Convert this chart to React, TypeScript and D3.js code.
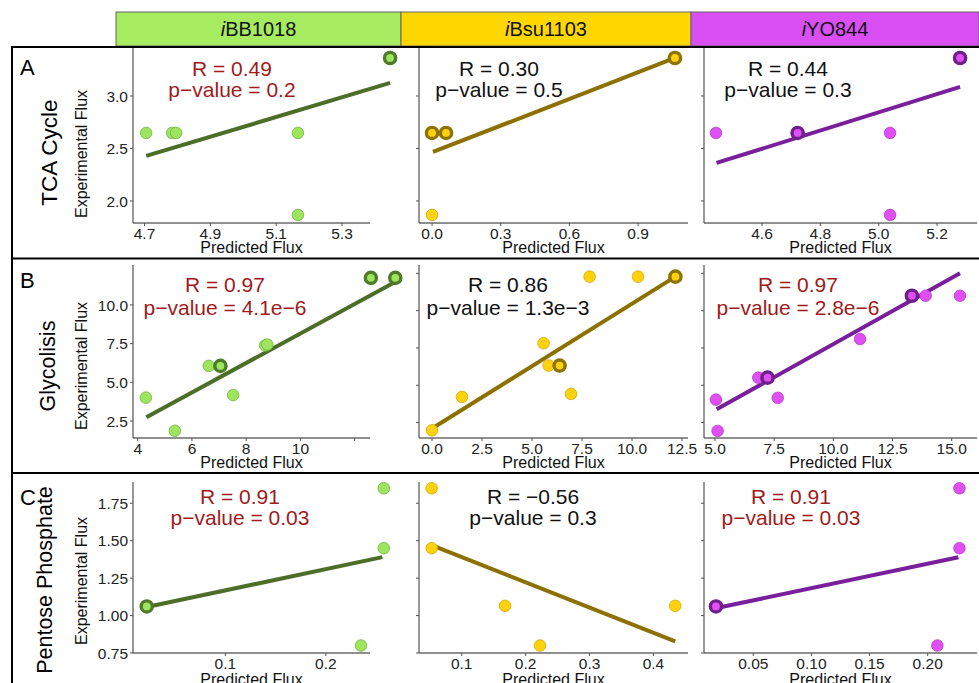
import React from "react";
import * as d3 from "d3";

const modelNames = ["BB1018", "Bsu1103", "YO844"];
const pathwayNames = ["TCA Cycle", "Glycolisis", "Pentose Phosphate"];
const rowTags = ["A", "B", "C"];

// TCA cycle
const tcaPredBB = [4.705, 4.784, 4.796, 5.166, 5.166, 5.446];
const tcaExpBB = [2.648, 2.648, 2.648, 2.648, 1.867, 3.362];
const tcaRingBB = [0, 0, 0, 0, 0, 1];
const tcaPredBsu = [0.0, 0.061, 0.0, 1.061];
const tcaExpBsu = [2.648, 2.648, 1.867, 3.362];
const tcaRingBsu = [1, 1, 0, 1];
const tcaPredYO = [4.442, 4.722, 5.039, 5.039, 5.279];
const tcaExpYO = [2.648, 2.648, 2.648, 1.867, 3.362];
const tcaRingYO = [0, 1, 0, 0, 1];

// glycolisis
const glyPredBB = [4.3, 5.37, 6.62, 7.05, 7.52, 8.7, 8.78, 12.6, 13.5];
const glyExpBB = [4.01, 1.87, 6.06, 6.06, 4.18, 7.38, 7.44, 11.75, 11.75];
const glyRingBB = [0, 0, 0, 1, 0, 0, 0, 1, 1];
const glyPredBsu = [0.0, 1.5, 5.58, 5.83, 6.38, 6.95, 7.88, 10.3, 12.17];
const glyExpBsu = [1.98, 4.22, 7.82, 6.32, 6.32, 4.42, 12.28, 12.28, 12.28];
const glyRingBsu = [0, 0, 0, 0, 1, 0, 0, 0, 1];
const glyPredYO = [5.04, 5.11, 6.83, 7.22, 7.65, 11.13, 13.32, 13.9, 15.35];
const glyExpYO = [4.04, 1.94, 5.51, 5.51, 4.16, 8.1, 11.0, 11.0, 11.0];
const glyRingYO = [0, 0, 0, 1, 0, 0, 1, 0, 0];

// pentose phosphate
const ppPredBB = [0.0217, 0.235, 0.2577, 0.2577];
const ppExpBB = [1.061, 0.8, 1.45, 1.85];
const ppRingBB = [1, 0, 0, 0];
const ppPredBsu = [0.053, 0.053, 0.1678, 0.2225, 0.434];
const ppExpBsu = [1.85, 1.45, 1.065, 0.8, 1.065];
const ppRingBsu = [0, 0, 0, 0, 0];
const ppPredYO = [0.0179, 0.2083, 0.2273, 0.2273];
const ppExpYO = [1.061, 0.8, 1.45, 1.85];
const ppRingYO = [1, 0, 0, 0];

// regression line ends
const fitPred = [
  [4.705, 5.446], [0.004, 1.061], [4.444, 5.279],
  [4.32, 13.51], [0, 12.17], [5.07, 15.35],
  [0.0217, 0.2563], [0.0556, 0.434], [0.0185, 0.2264],
];
const fitExp = [
  [2.429, 3.124], [2.467, 3.362], [2.362, 3.086],
  [2.74, 11.5], [2.1, 12.28], [3.39, 12.5],
  [1.057, 1.39], [1.465, 0.827], [1.05, 1.39],
];

const rLabels = ["0.49", "0.30", "0.44", "0.97", "0.86", "0.97", "0.91", "\u22120.56", "0.91"];
const pLabels = ["0.2", "0.5", "0.3", "4.1e\u22126", "1.3e\u22123", "2.8e\u22126", "0.03", "0.3", "0.03"];
const redStats = [1, 0, 0, 1, 0, 1, 1, 0, 1];

const xTicks = [
  [4.7, 4.9, 5.1, 5.3], [0, 0.3, 0.6, 0.9], [4.6, 4.8, 5.0, 5.2],
  [4, 6, 8, 10, 12], [0, 2.5, 5, 7.5, 10, 12.5], [5, 7.5, 10, 12.5, 15],
  [0.1, 0.2], [0.1, 0.2, 0.3, 0.4], [0.05, 0.1, 0.15, 0.2],
];
const xTickText = [
  ["4.7", "4.9", "5.1", "5.3"], ["0.0", "0.3", "0.6", "0.9"], ["4.6", "4.8", "5.0", "5.2"],
  ["4", "6", "8", "10", ""], ["0.0", "2.5", "5.0", "7.5", "10.0", "12.5"], ["5.0", "7.5", "10.0", "12.5", "15.0"],
  ["0.1", "0.2"], ["0.1", "0.2", "0.3", "0.4"], ["0.05", "0.10", "0.15", "0.20"],
];
const yTicks = [
  [2.0, 2.5, 3.0], [2.0, 2.5, 3.0], [2.0, 2.5, 3.0],
  [2.5, 5, 7.5, 10], [2.5, 5, 7.5, 10, 12.5], [2.5, 5, 7.5, 10, 12.5],
  [0.75, 1, 1.25, 1.5, 1.75], [0.75, 1, 1.25, 1.5, 1.75], [0.75, 1, 1.25, 1.5, 1.75],
];

// scale ranges of each panel
const xDomains = [
  [4.665, 5.385], [-0.057, 1.118], [4.401, 5.337],
  [3.826, 12.567], [-0.65, 12.8], [4.535, 16.07],
  [0.008, 0.244], [0.0332, 0.454], [0.0076, 0.2424],
];
const yDomains = [
  [1.79, 3.457], [1.79, 3.457], [1.79, 3.457],
  [1.401, 12.58], [1.466, 13.06], [1.466, 13.06],
  [0.75, 1.892], [0.75, 1.892], [0.75, 1.892],
];

const preds = [tcaPredBB, tcaPredBsu, tcaPredYO, glyPredBB, glyPredBsu, glyPredYO, ppPredBB, ppPredBsu, ppPredYO];
const exps = [tcaExpBB, tcaExpBsu, tcaExpYO, glyExpBB, glyExpBsu, glyExpYO, ppExpBB, ppExpBsu, ppExpYO];
const rings = [tcaRingBB, tcaRingBsu, tcaRingYO, glyRingBB, glyRingBsu, glyRingYO, ppRingBB, ppRingBsu, ppRingYO];

const palette = [
  { head: "#a6eb60", fill: "#9de45f", edge: "#74b23f", ring: "#4f7a2a", line: "#4c6e29" },
  { head: "#ffd700", fill: "#ffd20d", edge: "#d2a800", ring: "#8c7200", line: "#8c7000" },
  { head: "#d94ff4", fill: "#e04ff4", edge: "#b53acb", ring: "#6f1f8a", line: "#7a1f9c" },
];

const colLeft = [133, 419, 704];
const colRight = [370, 688, 977];
const rowTop = [48, 265, 482];
const rowBottom = [223, 438, 653];
const statDx = [99, 80, 84, 92, 89, 94, 107, 114, 87];
const statBase = [[28, 49], [26.5, 49.5], [22, 43]];
const rowTitlePos = [[57, 152.5], [55, 366], [52, 580]];
const yTitleCenter = [154, 366, 581];
const xTitleBase = [253, 468, 685];

const FONT = "'Liberation Sans', Arial, Helvetica, sans-serif";
const RED = "#a11a1a";
const TICK_FS = 15.5;

function Panel({ i }: { i: number }) {
  const r = Math.floor(i / 3);
  const c = i % 3;
  const col = palette[c];
  const x = d3.scaleLinear().domain(xDomains[i]).range([colLeft[c], colRight[c]]);
  const y = d3.scaleLinear().domain(yDomains[i]).range([rowBottom[r], rowTop[r]]);
  const fitLine = d3.line<number>()
    .x((d, k) => x(fitPred[i][k]))
    .y((d) => y(d));
  const yFmt = r === 2 ? d3.format(".2f") : d3.format(".1f");
  const pts = preds[i].map((p, k) => ({ p, e: exps[i][k], ring: rings[i][k] }));
  const order = pts.slice().sort((a, b) => a.ring - b.ring);
  const statColor = redStats[i] ? RED : "#111";
  const cx = colLeft[c] + statDx[i];
  return (
    <g>
      {/* axes */}
      <line x1={colLeft[c]} x2={colRight[c]} y1={rowBottom[r]} y2={rowBottom[r]} stroke="#222" strokeWidth={1.1} />
      <line x1={colLeft[c]} x2={colLeft[c]} y1={rowTop[r]} y2={rowBottom[r]} stroke="#444" strokeWidth={1.1} />
      {xTicks[i].map((t, k) => (
        <g key={"x" + k}>
          <line x1={x(t)} x2={x(t)} y1={rowBottom[r]} y2={rowBottom[r] + 3} stroke="#555" />
          <text x={x(t)} y={rowBottom[r] + 15.5} textAnchor="middle" fontSize={TICK_FS} fill="#222">{xTickText[i][k]}</text>
        </g>
      ))}
      {yTicks[i].map((t, k) => (
        <g key={"y" + k}>
          <line x1={colLeft[c] - 3} x2={colLeft[c]} y1={y(t)} y2={y(t)} stroke="#555" />
          {c === 0 && (
            <text x={colLeft[c] - 5} y={y(t)} dy="0.36em" textAnchor="end" fontSize={TICK_FS} fill="#222">{yFmt(t)}</text>
          )}
        </g>
      ))}
      <text x={(colLeft[c] + colRight[c]) / 2} y={xTitleBase[r]} textAnchor="middle" fontSize={16} fill="#111">Predicted Flux</text>
      {/* fit */}
      <path d={fitLine(fitExp[i]) || ""} fill="none" stroke={col.line} strokeWidth={4} />
      {/* points */}
      {order.map((d, k) => d.ring ? (
        <circle key={k} cx={x(d.p)} cy={y(d.e)} r={5.6} fill={col.fill} stroke={col.ring} strokeWidth={3.4} />
      ) : (
        <circle key={k} cx={x(d.p)} cy={y(d.e)} r={5.8} fill={col.fill} stroke={col.edge} strokeWidth={0.8} />
      ))}
      <text x={cx} y={rowTop[r] + statBase[r][0]} textAnchor="middle" fontSize={21} fill={statColor}>R = {rLabels[i]}</text>
      <text x={cx} y={rowTop[r] + statBase[r][1]} textAnchor="middle" fontSize={21} fill={statColor}>{"p\u2212value = " + pLabels[i]}</text>
    </g>
  );
}

export default function App() {
  const headLeft = [116, 401, 691, 979];
  return (
    <svg width={979} height={683} style={{ position: "absolute", left: 0, top: 0, background: "#fff" }} fontFamily={FONT}>
      {modelNames.map((m, c) => (
        <g key={m}>
          <rect x={headLeft[c]} y={12} width={headLeft[c + 1] - headLeft[c]} height={34} fill={palette[c].head} stroke="#666" strokeWidth={1} />
          <text x={(headLeft[c] + headLeft[c + 1]) / 2} y={36} textAnchor="middle" fontSize={20} fill="#111">
            <tspan fontStyle="italic">i</tspan>{m}
          </text>
        </g>
      ))}
      {/* frame */}
      <line x1={12} x2={979} y1={47} y2={47} stroke="#000" strokeWidth={2} />
      <line x1={12} x2={12} y1={46} y2={683} stroke="#000" strokeWidth={2} />
      <line x1={12} x2={979} y1={258.5} y2={258.5} stroke="#000" strokeWidth={2} />
      <line x1={12} x2={979} y1={473} y2={473} stroke="#000" strokeWidth={2} />
      {pathwayNames.map((p, r) => (
        <g key={p}>
          <text x={20} y={rowTop[r] + (r === 0 ? 27 : 23)} fontSize={22} fill="#000">{rowTags[r]}</text>
          <text transform={`translate(${rowTitlePos[r][0]},${rowTitlePos[r][1]}) rotate(-90)`} textAnchor="middle" fontSize={r === 0 ? 22.5 : 21.5} fill="#000">{p}</text>
          <text transform={`translate(87,${yTitleCenter[r]}) rotate(-90)`} textAnchor="middle" fontSize={16} fill="#111">Experimental Flux</text>
        </g>
      ))}
      {d3.range(9).map((i) => <Panel key={i} i={i} />)}
    </svg>
  );
}
